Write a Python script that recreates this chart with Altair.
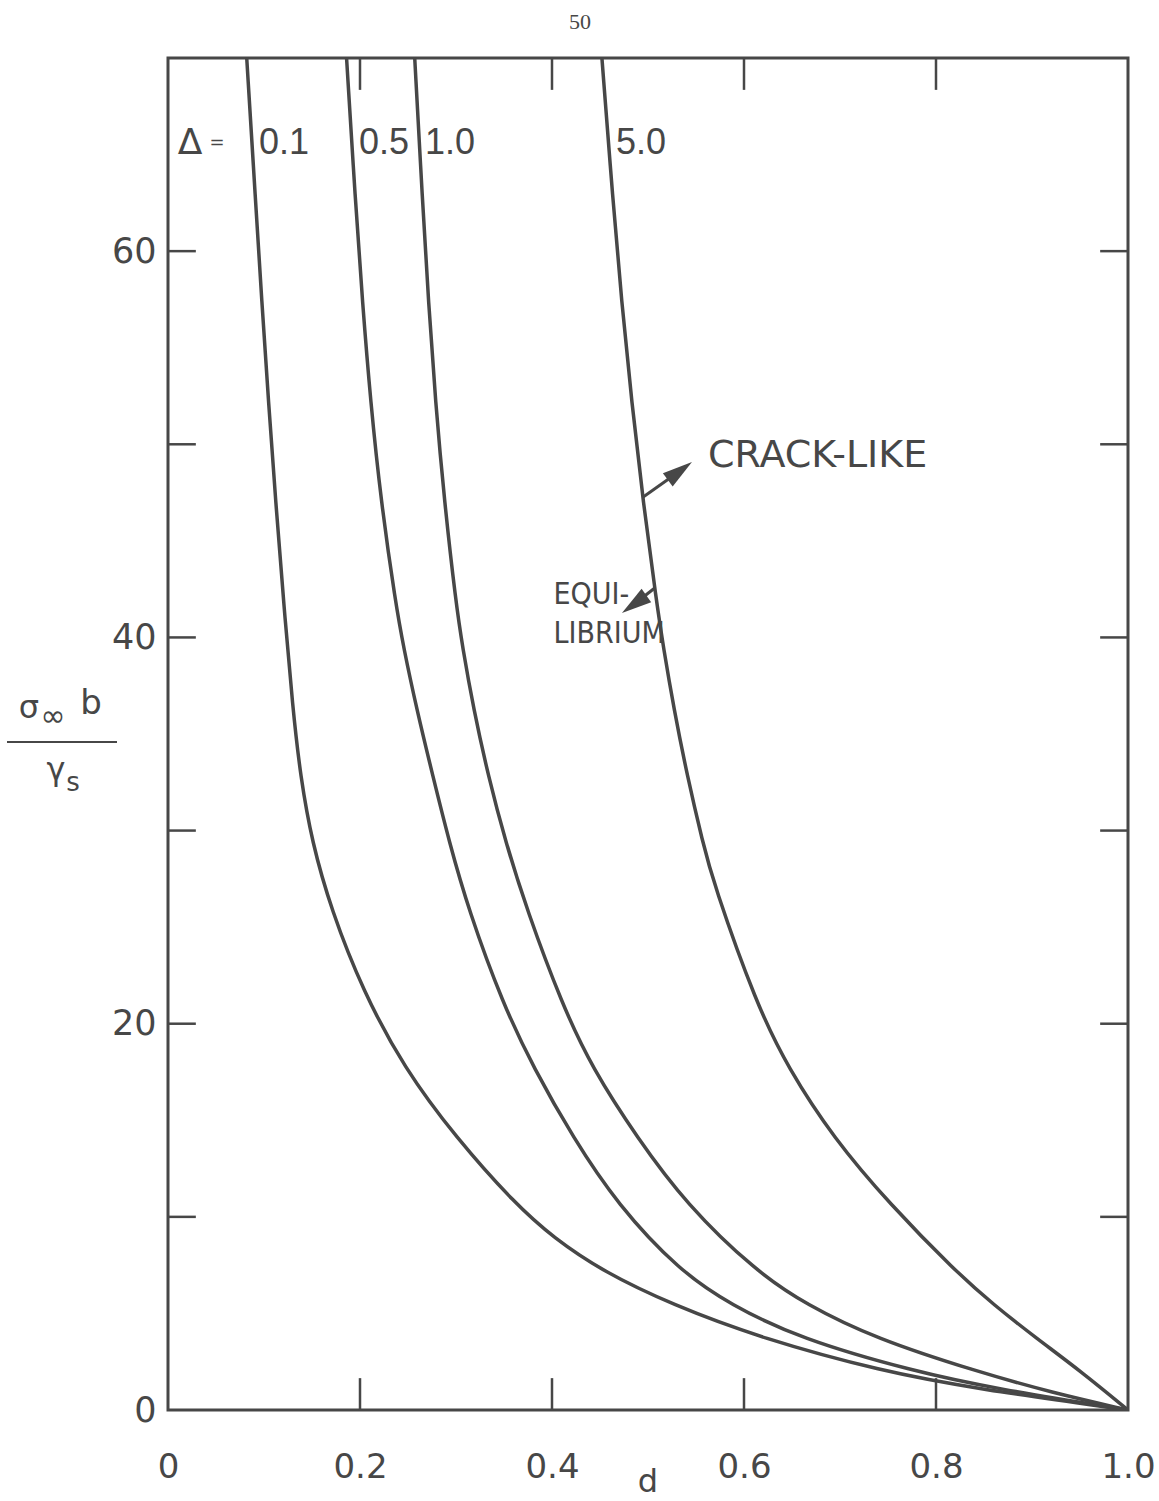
import altair as alt
import pandas as pd

# ---------------- data ----------------
delta_names = ["0.1", "0.5", "1.0", "5.0"]

s_01 = [70, 62.6, 57.4, 52.2, 47.0, 41.8, 36.3, 32.8, 29.4, 25.9, 21.7, 17.7, 14.1, 10.65, 8.9, 7.2, 5.45, 3.7, 2.0, 1.1, 0]
d_01 = [0.082, 0.0912, 0.0977, 0.1047, 0.1122, 0.1205, 0.1300, 0.1380, 0.150, 0.170, 0.203, 0.246, 0.300, 0.362, 0.402, 0.452, 0.525, 0.619, 0.744, 0.842, 1.0]

s_05 = [70, 62.6, 57.4, 52.2, 47.0, 41.8, 39.5, 36.3, 32.8, 29.4, 25.9, 21.0, 17.7, 14.1, 10.65, 7.2, 5.45, 3.7, 2.0, 1.1, 0]
d_05 = [0.186, 0.1952, 0.2025, 0.211, 0.222, 0.237, 0.2453, 0.259, 0.276, 0.293, 0.313, 0.349, 0.381, 0.422, 0.468, 0.533, 0.586, 0.658, 0.777, 0.862, 1.0]

s_10 = [70, 62.6, 57.4, 52.2, 47.0, 41.8, 39.5, 36.3, 32.8, 29.4, 25.9, 21.0, 17.7, 14.1, 10.65, 7.2, 5.45, 3.7, 2.0, 0.9, 0]
d_10 = [0.257, 0.2651, 0.2713, 0.2786, 0.2880, 0.2999, 0.3068, 0.3183, 0.3337, 0.3517, 0.3738, 0.4105, 0.4419, 0.4887, 0.540, 0.612, 0.665, 0.737, 0.842, 0.921, 1.0]

s_50 = [70, 62.6, 57.4, 52.2, 47.0, 41.8, 39.5, 36.3, 32.8, 29.4, 27.3, 21.0, 17.7, 14.1, 10.65, 7.2, 5.45, 3.7, 2.0, 0]
d_50 = [0.452, 0.4635, 0.4725, 0.483, 0.495, 0.509, 0.516, 0.527, 0.541, 0.557, 0.568, 0.613, 0.646, 0.693, 0.752, 0.820, 0.860, 0.905, 0.951, 1.0]

x_label_values = [0, 0.2, 0.4, 0.6, 0.8, 1.0]
y_label_values = [0, 20, 40, 60]
x_tick_values = [0.2, 0.4, 0.6, 0.8]
y_tick_values = [10, 20, 30, 40, 50, 60]

curve_label_text = ["0.1", "0.5", "1.0", "5.0"]
curve_label_d = [0.0948, 0.1990, 0.2677, 0.4667]   # left edges
curve_label_s = 65.6
delta_sym = ["Δ", "="]
delta_d = [0.0229, 0.051]

crack_text = "CRACK-LIKE"
crack_d, crack_s = 0.5625, 49.4
equi_lines = ["EQUI-", "LIBRIUM"]
equi_d = 0.4015
equi_s = [42.2, 40.2]

arrow1_d = [0.495, 0.5332]
arrow1_s = [47.27, 48.62]
arrow1_head = (0.5332, 48.62, 53.7)
arrow2_d = [0.507, 0.4856]
arrow2_s = [42.56, 41.72]
arrow2_head = (0.4856, 41.72, 234.5)

# ---------------- build tables ----------------
rows = []
for name, ds, ss in zip(delta_names, [d_01, d_05, d_10, d_50], [s_01, s_05, s_10, s_50]):
    for d, s in zip(ds, ss):
        rows.append({"delta": name, "d": d, "s": s})
curves_df = pd.DataFrame(rows)

TX = 0.029   # inward tick length in x data units
TY = 1.65    # inward tick length in y data units
tick_rows = []
for v in y_tick_values:
    tick_rows.append({"x": 0.0, "x2": TX, "y": v, "y2": v})
    tick_rows.append({"x": 1.0 - TX, "x2": 1.0, "y": v, "y2": v})
for v in x_tick_values:
    tick_rows.append({"x": v, "x2": v, "y": 0.0, "y2": TY})
    tick_rows.append({"x": v, "x2": v, "y": 70 - TY, "y2": 70})
ticks_df = pd.DataFrame(tick_rows)

INK = "#474747"
W, H = 960, 1352

xscale = alt.Scale(domain=[0, 1], nice=False, zero=False)
yscale = alt.Scale(domain=[0, 70], nice=False, zero=False)

x_axis = alt.Axis(values=x_label_values, labelExpr="datum.value == 0 ? '0' : format(datum.value, '.1f')",
                  domain=False, ticks=False, tickSize=0, grid=False, labelFontSize=34,
                  labelFont="DejaVu Sans", labelColor=INK, labelPadding=40, labelFlush=False,
                  labelOverlap=False, title=None)
y_axis = alt.Axis(values=y_label_values, domain=False, ticks=False, tickSize=0, grid=False,
                  labelFontSize=35, labelFont="DejaVu Sans", labelColor=INK, labelPadding=12,
                  title=None)


def X(field):
    return alt.X(field, type="quantitative", scale=xscale, axis=x_axis)


def Y(field):
    return alt.Y(field, type="quantitative", scale=yscale, axis=y_axis)


curves = alt.Chart(curves_df).mark_line(color=INK, strokeWidth=3.5, interpolate="basis", clip=True).encode(
    x=X("d"), y=Y("s"), detail="delta:N", order="d:Q")

ticks = alt.Chart(ticks_df).mark_rule(color=INK, strokeWidth=2.5).encode(
    x=X("x"), x2="x2", y=Y("y"), y2="y2")

lab_df = pd.DataFrame({"t": curve_label_text, "d": curve_label_d, "s": [curve_label_s] * 4})
curve_labels = alt.Chart(lab_df).mark_text(fontSize=36, font="Liberation Sans", color=INK, align="left").encode(
    x=X("d"), y=Y("s"), text="t:N")
delta_df = pd.DataFrame({"t": delta_sym, "d": delta_d, "s": [curve_label_s] * 2})
delta_lab = alt.Chart(delta_df).mark_text(font="DejaVu Sans", color=INK).encode(
    x=X("d"), y=Y("s"), text="t:N",
    size=alt.Size("t:N", scale=alt.Scale(domain=delta_sym, range=[36, 18]), legend=None))

crack_df = pd.DataFrame({"t": [crack_text], "d": [crack_d], "s": [crack_s]})
crack = alt.Chart(crack_df).mark_text(fontSize=38, font="DejaVu Sans", color=INK, align="left").encode(
    x=X("d"), y=Y("s"), text="t:N")

equi_df = pd.DataFrame({"t": equi_lines, "d": [equi_d] * 2, "s": equi_s})
equi = alt.Chart(equi_df).mark_text(fontSize=30, font="DejaVu Sans Condensed, Liberation Sans",
                                    color=INK, align="left").encode(x=X("d"), y=Y("s"), text="t:N")

arr_df = pd.DataFrame({"a": ["1", "1", "2", "2"], "d": arrow1_d + arrow2_d, "s": arrow1_s + arrow2_s})
arrows = alt.Chart(arr_df).mark_line(color=INK, strokeWidth=3).encode(x=X("d"), y=Y("s"), detail="a:N")

head_path = "M0,-1L0.55,1L-0.55,1Z"
heads = []
for hd, hs, ang in [arrow1_head, arrow2_head]:
    hdf = pd.DataFrame({"d": [hd], "s": [hs]})
    heads.append(alt.Chart(hdf).mark_point(shape=head_path, filled=True, color=INK, opacity=1, size=900,
                                          angle=ang).encode(x=X("d"), y=Y("s")))

# y-axis fraction title and other page text (pixel positions relative to the plot origin)
ttl_df = pd.DataFrame({"k": [0]})


def txt(t, x, y, size, font="DejaVu Sans"):
    return alt.Chart(ttl_df).mark_text(text=t, fontSize=size, font=font, color=INK).encode(
        x=alt.value(x), y=alt.value(y))


ytitle = [
    txt("σ", -139, 650, 32),
    txt("∞", -115, 659, 30),
    txt("b", -77, 646, 34),
    txt("γ", -112, 712, 32),
    txt("s", -95, 725, 26),
]
frac = alt.Chart(ttl_df).mark_rule(color=INK, strokeWidth=2).encode(
    x=alt.value(-161), x2=alt.value(-51), y=alt.value(684))
xtitle = txt("d", 480, 1424, 32)
page_no = txt("50", 412, -36, 22, font="Liberation Serif")

chart = alt.layer(curves, ticks, curve_labels, delta_lab, crack, equi, arrows, *heads, *ytitle, frac, xtitle, page_no).properties(
    width=W, height=H,
    autosize=alt.AutoSizeParams(type="none"),
    padding={"left": 168, "top": 58, "right": 31, "bottom": 91},
    background="white",
).configure_view(stroke=INK, strokeWidth=3)

chart.save("out.html", embed_options={"renderer": "svg", "actions": False})
